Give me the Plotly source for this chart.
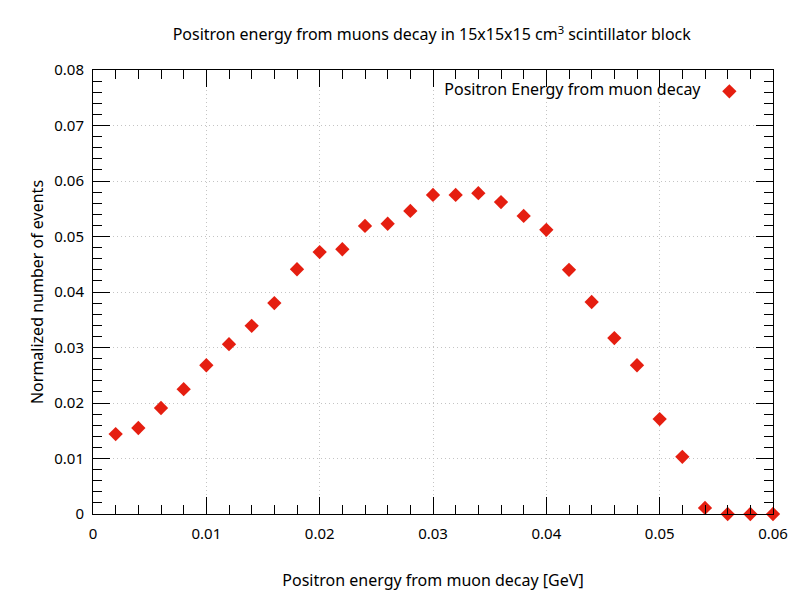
import plotly.graph_objects as go

energy = [0.002, 0.004, 0.006, 0.008, 0.010, 0.012, 0.014, 0.016, 0.018, 0.020,
          0.022, 0.024, 0.026, 0.028, 0.030, 0.032, 0.034, 0.036, 0.038, 0.040,
          0.042, 0.044, 0.046, 0.048, 0.050, 0.052, 0.054, 0.056, 0.058, 0.060]
events = [0.0144, 0.0155, 0.0191, 0.0225, 0.0268, 0.0306, 0.0339, 0.0380, 0.0441, 0.0472,
          0.0477, 0.0519, 0.0523, 0.0546, 0.0575, 0.0575, 0.0578, 0.0562, 0.0537, 0.0512,
          0.0440, 0.0382, 0.0317, 0.0268, 0.0171, 0.0103, 0.0011, 0.0, 0.0, 0.0]

series_name = "Positron Energy from muon decay"
title = "Positron energy from muons decay in 15x15x15 cm<sup>3</sup> scintillator block"
x_title = "Positron energy from muon decay [GeV]"
y_title = "Normalized number of events"

font = "Noto Sans"
red = "#e51e10"

fig = go.Figure()
fig.add_trace(go.Scatter(
    x=energy, y=events, mode="markers", name="",
    marker=dict(symbol="diamond", size=11, color=red, line=dict(width=0)),
    cliponaxis=False,
))

axis_common = dict(
    showline=True, linecolor="black", linewidth=1, mirror="allticks",
    ticks="inside", ticklen=17, tickcolor="black", tickwidth=1,
    showgrid=True, gridcolor="#c4c4c4", griddash="1px,3px", gridwidth=1,
    zeroline=False,
    tickfont=dict(family=font, size=15, color="black"),
)

fig.update_layout(
    width=792, height=592,
    paper_bgcolor="white", plot_bgcolor="white",
    margin=dict(l=85, r=27, t=62, b=86),
    font=dict(family=font, size=16, color="black"),
    title=dict(text=title, x=0.535, xanchor="center", y=0.955, yanchor="middle",
               font=dict(family=font, size=16, color="black")),
    showlegend=True,
    legend=dict(
        orientation="h", x=0.974, xanchor="right", y=0.99, yanchor="top",
        bgcolor="rgba(0,0,0,0)",
        title=dict(text=series_name, side="left", font=dict(family=font, size=16)),
        itemwidth=30,
    ),
    xaxis=dict(
        range=[0, 0.06], dtick=0.01, tick0=0, tickformat="~g",
        ticklabelstandoff=6,
        title=dict(text=x_title, font=dict(family=font, size=16), standoff=32),
        minor=dict(dtick=0.002, ticks="inside", ticklen=9, tickcolor="black", showgrid=False),
        **axis_common,
    ),
    yaxis=dict(
        range=[0, 0.08], dtick=0.01, tick0=0, tickformat="~g",
        ticklabelstandoff=5,
        title=dict(text=y_title, font=dict(family=font, size=16), standoff=6),
        minor=dict(dtick=0.002, ticks="inside", ticklen=9, tickcolor="black", showgrid=False),
        **axis_common,
    ),
)

fig.write_html("out.html")
